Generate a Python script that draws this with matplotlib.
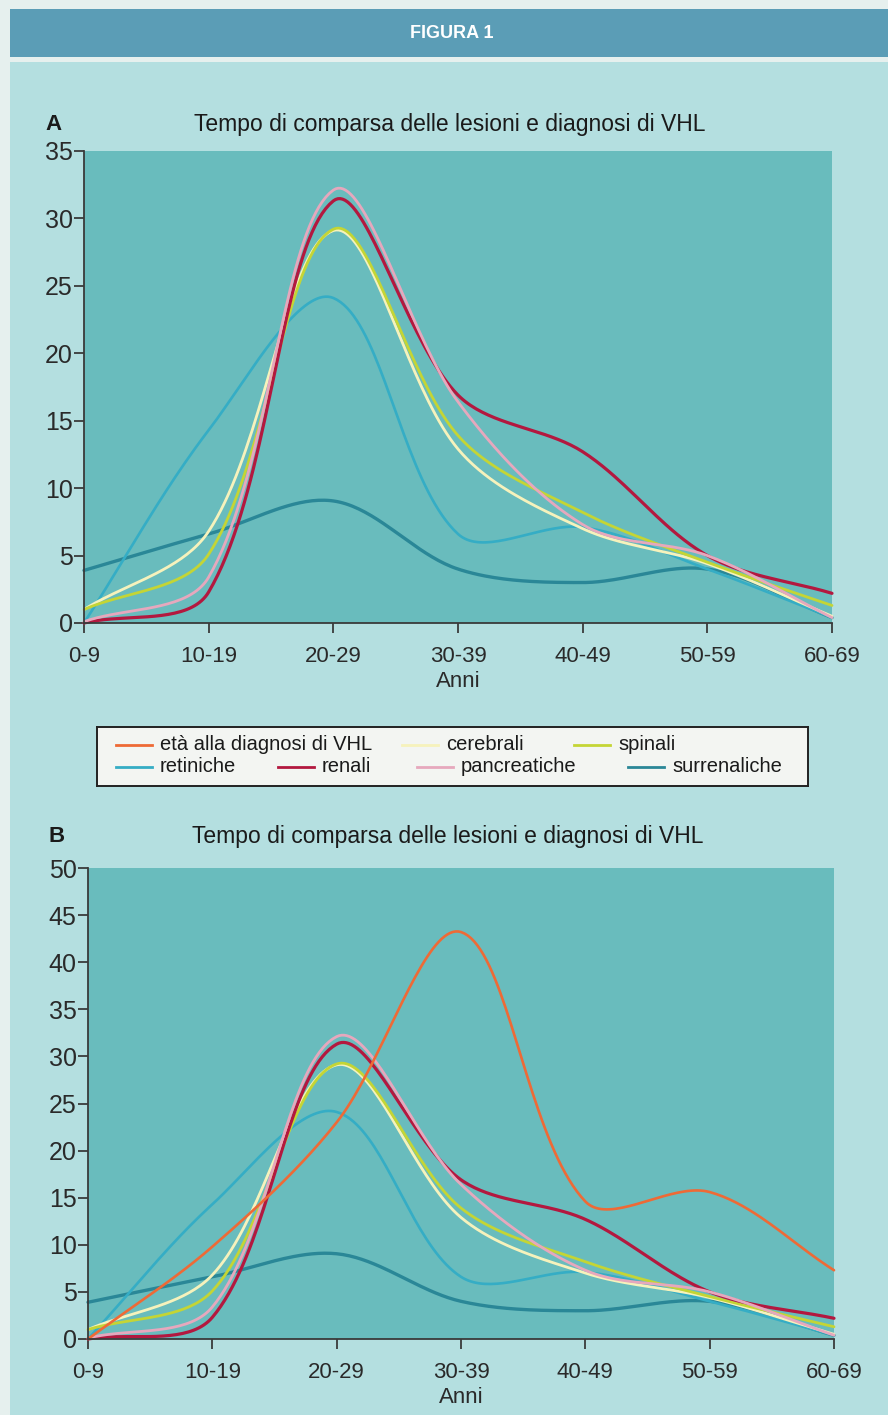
import numpy as np
import matplotlib
matplotlib.use("Agg")
import matplotlib.pyplot as plt
from matplotlib.patches import Rectangle

plt.rcParams['font.family'] = ['Liberation Sans', 'DejaVu Sans']

# Data (one value per age class)
age_classes = ['0-9', '10-19', '20-29', '30-39', '40-49', '50-59', '60-69']
eta_diagnosi = [0.0, 9.8, 23.0, 43.2, 14.6, 15.6, 7.3]
cerebrali = [1.0, 6.8, 29.1, 12.9, 7.0, 4.4, 0.5]
spinali = [1.0, 5.1, 29.2, 13.9, 8.2, 4.5, 1.3]
retiniche = [0.0, 14.3, 24.1, 6.6, 7.1, 4.0, 0.4]
renali = [0.0, 2.3, 31.3, 16.9, 12.7, 5.0, 2.2]
pancreatiche = [0.1, 3.4, 32.1, 16.4, 7.3, 5.0, 0.4]
surrenaliche = [3.9, 6.6, 9.05, 4.0, 3.0, 4.0, 0.4]

title = 'Tempo di comparsa delle lesioni e diagnosi di VHL'

C_ETA = '#ee6a36'
C_CER = '#f6f2bc'
C_SPI = '#c4d535'
C_RET = '#35adc5'
C_REN = '#b3183f'
C_PAN = '#e6a8bd'
C_SUR = '#2a8797'

BG_OUT = '#b4dfe0'
BG_PLOT = '#69bcbd'


def smooth(ax, vals, n=40):
    # spreadsheet-like smoothed line: cubic Bezier segments, tangents weighted
    # by the on-screen chord lengths (done in display space, then mapped back)
    pts = ax.transData.transform(np.column_stack([np.arange(len(vals)), vals]))
    ext = np.vstack([pts[0], pts, pts[-1]])
    d = np.linalg.norm(np.diff(ext, axis=0), axis=1)  # d[i] = |ext[i+1]-ext[i]|
    t = np.linspace(0, 1, n, endpoint=False)[:, None]
    out = []
    for i in range(len(vals) - 1):
        p1, p2 = pts[i], pts[i + 1]
        dprev, dseg, dnext = d[i], d[i + 1], d[i + 2]
        tan1 = ext[i + 2] - ext[i]
        tan2 = ext[i + 3] - ext[i + 1]
        c1 = p1 + tan1 * dseg / (dprev + dseg) / 3
        c2 = p2 - tan2 * dseg / (dseg + dnext) / 3
        out.append((1 - t) ** 3 * p1 + 3 * (1 - t) ** 2 * t * c1
                   + 3 * (1 - t) * t ** 2 * c2 + t ** 3 * p2)
    out.append(pts[-1:])
    curve = ax.transData.inverted().transform(np.vstack(out))
    return curve[:, 0], curve[:, 1]


fig = plt.figure(figsize=(8.88, 14.15), dpi=100)
fig.patch.set_facecolor('#e6f0ee')
W, H = 888, 1415


def fbox(x0, y0, x1, y1, color):
    fig.patches.append(Rectangle((x0 / W, 1 - y1 / H), (x1 - x0) / W, (y1 - y0) / H,
                                 transform=fig.transFigure, facecolor=color,
                                 edgecolor='none', lw=0, zorder=-10))


# page background, header bar
fbox(10, 62, 888, 1415, BG_OUT)
fbox(10, 9, 888, 57, '#5b9db6')
fig.text(452 / W, 1 - 33 / H, 'FIGURA 1', color='white', fontsize=13, fontweight='bold',
         family=['Liberation Sans Narrow', 'Liberation Sans'], ha='center', va='center')


def setup(ax, ymax):
    ax.set_facecolor(BG_PLOT)
    ax.set_xlim(0, 6)
    ax.set_ylim(0, ymax)
    ax.set_xticks(range(7))
    ax.set_xticklabels(age_classes)
    ax.set_yticks(np.arange(0, ymax + 1, 5))
    for s in ['top', 'right']:
        ax.spines[s].set_visible(False)
    for s in ['left', 'bottom']:
        ax.spines[s].set_color('#3a3a3a')
        ax.spines[s].set_linewidth(1.3)
        ax.spines[s].set_zorder(5)
    ax.tick_params(axis='both', direction='out', length=7.2, width=1.3, color='#3a3a3a',
                   labelcolor='#2a2a2a')
    ax.tick_params(axis='y', pad=1, labelsize=18)
    ax.tick_params(axis='x', pad=9, labelsize=16)
    ax.set_xlabel('Anni', fontsize=16, color='#2a2a2a', labelpad=3)


def draw_lines(ax, with_eta):
    series = [(surrenaliche, C_SUR, 2.4), (retiniche, C_RET, 1.9), (cerebrali, C_CER, 2.0),
              (spinali, C_SPI, 2.0), (renali, C_REN, 2.3), (pancreatiche, C_PAN, 2.0)]
    if with_eta:
        series.append((eta_diagnosi, C_ETA, 1.9))
    for vals, c, lw in series:
        xs, ys = smooth(ax, vals)
        ax.plot(xs, ys, color=c, lw=lw, clip_on=False, solid_capstyle='round')


# Panel A
axA = fig.add_axes([84 / W, 1 - 623 / H, (832 - 84) / W, (623 - 151) / H])
setup(axA, 35)
draw_lines(axA, False)
fig.text(45 / W, 1 - 124 / H, 'A', fontsize=16, fontweight='bold', color='#1a1a1a', va='center')
fig.text(450 / W, 1 - 124 / H, title, fontsize=16.5, color='#1a1a1a', ha='center', va='center')

# Panel B
axB = fig.add_axes([88 / W, 1 - 1339 / H, (834 - 88) / W, (1339 - 868) / H])
setup(axB, 50)
draw_lines(axB, True)
fig.text(48 / W, 1 - 837 / H, 'B', fontsize=16, fontweight='bold', color='#1a1a1a', va='center')
fig.text(448 / W, 1 - 837 / H, title, fontsize=16.5, color='#1a1a1a', ha='center', va='center')

# Legend box between the two panels
legax = fig.add_axes([97 / W, 1 - 786 / H, (808 - 97) / W, (786 - 727) / H])
legax.set_xlim(97, 808)
legax.set_ylim(786, 727)
legax.set_facecolor('#f3f5f2')
for s in legax.spines.values():
    s.set_color('#222222')
    s.set_linewidth(1.4)
legax.set_xticks([])
legax.set_yticks([])
entries = [('età alla diagnosi di VHL', C_ETA, 116, 745), ('cerebrali', C_CER, 402, 745),
           ('spinali', C_SPI, 574, 745), ('retiniche', C_RET, 116, 767),
           ('renali', C_REN, 278, 767), ('pancreatiche', C_PAN, 417, 767),
           ('surrenaliche', C_SUR, 628, 767)]
for label, c, lx, ly in entries:
    legax.plot([lx, lx + 36], [ly, ly], color=c, lw=2)
    legax.text(lx + 44, ly, label, fontsize=14.5, color='#1a1a1a', va='center')

fig.savefig('out.png', dpi=100, facecolor=fig.get_facecolor())
